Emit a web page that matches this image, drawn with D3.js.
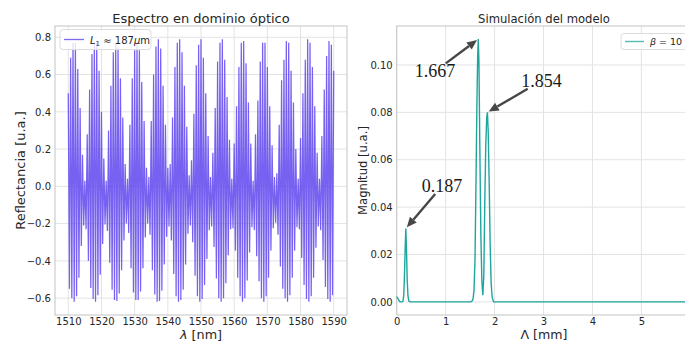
<!DOCTYPE html>
<html>
<head>
<meta charset="utf-8">
<script src="https://cdn.jsdelivr.net/npm/d3@7"></script>
<style>
  html, body { margin: 0; padding: 0; background: #ffffff; }
  svg { display: block; }
</style>
</head>
<body>
<svg id="chart" width="685" height="342"></svg>
<script>
// ---------- Left panel: optical reflectance spectrum ----------
const lambdaRange = [1510, 1590];                 // nm, sampled evenly
// peak value of each interference fringe, in order of wavelength
const fringePeaks = [
  0.50, 0.69, 0.77, 0.77, 0.63, 0.42, 0.17,
  0.03,
  0.28, 0.52, 0.71, 0.77, 0.77, 0.62, 0.40, 0.15,
  0.03,
  0.30, 0.54, 0.72, 0.77, 0.75, 0.58, 0.37, 0.12,
  0.04,
  0.33, 0.58, 0.73, 0.77, 0.73, 0.56, 0.35, 0.10,
  0.05,
  0.35, 0.60, 0.75, 0.79, 0.74, 0.54, 0.33, 0.10,
  0.12, 0.37, 0.64, 0.77, 0.79, 0.72, 0.54, 0.32,
  0.06,
  0.14, 0.39, 0.65, 0.76, 0.79, 0.69, 0.50, 0.27,
  0.05,
  0.18, 0.42, 0.67, 0.77, 0.79, 0.68, 0.48, 0.25,
  0.04,
  0.23, 0.43, 0.64, 0.77, 0.78, 0.66, 0.45, 0.23,
  0.03,
  0.28, 0.46, 0.67, 0.77, 0.77, 0.64, 0.43, 0.22,
  0.05, 0.07,
  0.33, 0.57, 0.68, 0.78, 0.77, 0.62, 0.45, 0.20,
  0.04,
  0.26, 0.50, 0.68, 0.79, 0.77, 0.64, 0.43, 0.18,
  0.04,
  0.27, 0.52, 0.70, 0.78, 0.76, 0.62
];
// trough value between consecutive fringe peaks
const fringeTroughs = [
  -0.55, -0.60, -0.62, -0.59, -0.49, -0.32, -0.21, -0.23,
  -0.40, -0.545, -0.605, -0.62, -0.585, -0.475, -0.31, -0.205, -0.24,
  -0.41, -0.555, -0.61, -0.615, -0.575, -0.45, -0.29, -0.20, -0.25,
  -0.44, -0.57, -0.61, -0.61, -0.565, -0.44, -0.275, -0.20, -0.26,
  -0.45, -0.58, -0.62, -0.615, -0.56, -0.42, -0.27, -0.215,
  -0.29, -0.47, -0.59, -0.62, -0.61, -0.555, -0.42, -0.255, -0.21,
  -0.30, -0.48, -0.59, -0.62, -0.605, -0.53, -0.39, -0.235, -0.215,
  -0.325, -0.495, -0.60, -0.62, -0.60, -0.52, -0.37, -0.23, -0.225,
  -0.345, -0.49, -0.59, -0.62, -0.60, -0.505, -0.355, -0.22, -0.235,
  -0.375, -0.51, -0.60, -0.62, -0.59, -0.49, -0.345, -0.225, -0.195, -0.26,
  -0.43, -0.55, -0.60, -0.62, -0.585, -0.49, -0.345, -0.22, -0.23,
  -0.385, -0.53, -0.605, -0.62, -0.59, -0.49, -0.33, -0.215, -0.235,
  -0.395, -0.54, -0.605, -0.62, -0.585
];
const lambdaTicks = [1510, 1520, 1530, 1540, 1550, 1560, 1570, 1580, 1590];
const reflTicks = [-0.6, -0.4, -0.2, 0.0, 0.2, 0.4, 0.6, 0.8];

// ---------- Right panel: model spectrum magnitude ----------
const spectrumLambda = [
  0, 0.02, 0.04, 0.06, 0.08, 0.11, 0.13, 0.145, 0.16, 0.175,
  0.187, 0.20, 0.215, 0.23, 0.25, 0.28,
  1.52, 1.54, 1.56, 1.58, 1.60, 1.62, 1.64, 1.655, 1.667, 1.68,
  1.70, 1.72, 1.74, 1.76, 1.78, 1.80, 1.82, 1.84, 1.854, 1.87,
  1.89, 1.91, 1.93, 1.95, 1.98, 6.02
];
const spectrumMag = [
  0.0022, 0.0016, 0.0008, 0.0002, 0, 0, 0.0004, 0.003, 0.012, 0.024,
  0.031, 0.022, 0.009, 0.0025, 0.0003, 0,
  0, 0.0003, 0.0012, 0.005, 0.018, 0.05, 0.085, 0.104, 0.1109, 0.102,
  0.063, 0.028, 0.009, 0.0028, 0.011, 0.042, 0.066, 0.078, 0.080, 0.072,
  0.050, 0.024, 0.008, 0.002, 0, 0
];
const periodTicks = [0, 1, 2, 3, 4, 5];
const magTicks = [0.00, 0.02, 0.04, 0.06, 0.08, 0.10];
// annotated peaks: label, peak position, peak height, label centre
const peakLabels = ["0.187", "1.667", "1.854"];
const peakPeriod = [0.187, 1.667, 1.854];
const peakHeight = [0.031, 0.1109, 0.080];
const peakLabelAt = [[0.926, 0.0489], [0.783, 0.0973], [2.957, 0.0933]];

// ---------- styling ----------
const FONT = "'DejaVu Sans', sans-serif";
const TEXT = "#262626";
const GRID = "#e3e3e3";
const SPINE = "#c4c4c4";
const SPECTRUM_COLOR = "#5f45ef";
const MODEL_COLOR = "#1ea69d";

const svg = d3.select("#chart");

function pad(ext, f) {
  const d = (ext[1] - ext[0]) * f;
  return [ext[0] - d, ext[1] + d];
}

function drawFrame(g, x, y, box, xt, yt, xfmt, yfmt, tickFont) {
  // grid
  g.append("g").selectAll("line").data(xt).join("line")
    .attr("x1", d => x(d)).attr("x2", d => x(d))
    .attr("y1", box.top).attr("y2", box.bottom)
    .attr("stroke", GRID).attr("stroke-width", 1);
  g.append("g").selectAll("line").data(yt).join("line")
    .attr("x1", box.left).attr("x2", box.right)
    .attr("y1", d => y(d)).attr("y2", d => y(d))
    .attr("stroke", GRID).attr("stroke-width", 1);
  // axes (labels only)
  const ax = g.append("g").attr("transform", `translate(0,${box.bottom})`)
    .call(d3.axisBottom(x).tickValues(xt).tickFormat(xfmt).tickSize(0).tickPadding(3));
  const ay = g.append("g").attr("transform", `translate(${box.left},0)`)
    .call(d3.axisLeft(y).tickValues(yt).tickFormat(yfmt).tickSize(0).tickPadding(4));
  [ax, ay].forEach(a => {
    a.select(".domain").remove();
    a.selectAll("text").attr("font-family", FONT).attr("font-size", tickFont).attr("fill", TEXT);
  });
  // spines
  g.append("rect")
    .attr("x", box.left).attr("y", box.top)
    .attr("width", box.right - box.left).attr("height", box.bottom - box.top)
    .attr("fill", "none").attr("stroke", SPINE).attr("stroke-width", 1);
}

// ================= Left panel =================
{
  const box = { left: 55, right: 347, top: 26, bottom: 315 };
  const n = fringePeaks.length + fringeTroughs.length;
  const step = (lambdaRange[1] - lambdaRange[0]) / (n - 1);
  const pts = [];
  fringePeaks.forEach((p, i) => {
    pts.push([lambdaRange[0] + 2 * i * step, p]);
    if (i < fringeTroughs.length) pts.push([lambdaRange[0] + (2 * i + 1) * step, fringeTroughs[i]]);
  });
  const x = d3.scaleLinear().domain(pad(lambdaRange, 0.05)).range([box.left, box.right]);
  const y = d3.scaleLinear().domain(pad(d3.extent(pts, d => d[1]), 0.05)).range([box.bottom, box.top]);
  const g = svg.append("g");
  drawFrame(g, x, y, box, lambdaTicks, reflTicks, d3.format("d"), d3.format(".1f"), 10);

  g.append("path").datum(pts)
    .attr("d", d3.line().x(d => x(d[0])).y(d => y(d[1])))
    .attr("fill", "none").attr("stroke", SPECTRUM_COLOR)
    .attr("stroke-width", 1.25).attr("stroke-opacity", 0.85)
    .attr("stroke-linejoin", "miter");

  // legend
  const lg = g.append("g");
  lg.append("rect").attr("x", 60).attr("y", 29.5).attr("width", 91).attr("height", 20)
    .attr("rx", 3).attr("fill", "#ffffff").attr("fill-opacity", 0.8)
    .attr("stroke", "#dddddd").attr("stroke-width", 1);
  lg.append("line").attr("x1", 64).attr("x2", 84).attr("y1", 39.5).attr("y2", 39.5)
    .attr("stroke", SPECTRUM_COLOR).attr("stroke-opacity", 0.8).attr("stroke-width", 1.3);
  const lt = lg.append("text").attr("x", 90).attr("y", 43.5)
    .attr("font-family", FONT).attr("font-size", 10).attr("fill", TEXT);
  lt.append("tspan").attr("font-style", "italic").text("L");
  lt.append("tspan").attr("font-size", 7).attr("dy", 2).text("1");
  lt.append("tspan").attr("dy", -2).text(" \u2248 187");
  lt.append("tspan").attr("font-style", "italic").text("\u03bc");
  lt.append("tspan").text("m");

  // titles
  g.append("text").attr("x", (box.left + box.right) / 2).attr("y", 22.5)
    .attr("text-anchor", "middle").attr("font-family", FONT).attr("font-size", 13)
    .attr("fill", TEXT).text("Espectro en dominio \u00f3ptico");
  const xl = g.append("text").attr("x", (box.left + box.right) / 2).attr("y", 338.5)
    .attr("text-anchor", "middle").attr("font-family", FONT).attr("font-size", 12.8).attr("fill", TEXT);
  xl.append("tspan").attr("font-style", "italic").text("\u03bb");
  xl.append("tspan").text(" [nm]");
  g.append("text").attr("transform", `translate(24.5,${(box.top + box.bottom) / 2}) rotate(-90)`)
    .attr("text-anchor", "middle").attr("font-family", FONT).attr("font-size", 13)
    .attr("fill", TEXT).text("Reflectancia [u.a.]");
}

// ================= Right panel =================
{
  const box = { left: 396.7, right: 691.3, top: 26, bottom: 315 };
  const pts = spectrumLambda.map((l, i) => [l, spectrumMag[i]]);
  const x = d3.scaleLinear().domain(d3.extent(spectrumLambda)).range([box.left, box.right]);
  const y = d3.scaleLinear().domain(pad(d3.extent(spectrumMag), 0.05)).range([box.bottom, box.top]);
  const g = svg.append("g");
  drawFrame(g, x, y, box, periodTicks, magTicks, d3.format("d"), d3.format(".2f"), 10);

  g.append("path").datum(pts)
    .attr("d", d3.line().x(d => x(d[0])).y(d => y(d[1])))
    .attr("fill", "none").attr("stroke", MODEL_COLOR).attr("stroke-width", 1.4);

  // annotations with arrows
  const ann = g.append("g");
  peakLabels.forEach((lab, i) => {
    const cx = x(peakLabelAt[i][0]), cy = y(peakLabelAt[i][1]);
    const t = ann.append("text").attr("x", cx).attr("y", cy)
      .attr("text-anchor", "middle").attr("dominant-baseline", "central")
      .attr("font-family", "'Liberation Serif', 'DejaVu Serif', serif").attr("font-size", 18)
      .attr("fill", "#1a1a1a").text(lab);
    const bb = t.node().getBBox();
    const tx = x(peakPeriod[i]), ty = y(peakHeight[i]);
    const dx = tx - cx, dy = ty - cy;
    const hw = bb.width / 2 + 1, hh = bb.height / 2 - 2;
    const s = Math.min(Math.abs(hw / dx), Math.abs(hh / dy));
    const sx = cx + dx * s, sy = cy + dy * s;
    const len = Math.hypot(tx - sx, ty - sy);
    const ux = (tx - sx) / len, uy = (ty - sy) / len;
    const ex = tx - ux * 1.5, ey = ty - uy * 1.5;
    const headL = 10, headW = 4.5;
    const bx = ex - ux * headL, by = ey - uy * headL;
    ann.append("line").attr("x1", sx).attr("y1", sy).attr("x2", bx).attr("y2", by)
      .attr("stroke", "#474747").attr("stroke-width", 2.4);
    ann.append("path")
      .attr("d", `M${ex},${ey}L${bx - uy * headW},${by + ux * headW}L${bx + uy * headW},${by - ux * headW}Z`)
      .attr("fill", "#474747");
  });

  // legend
  const lg = g.append("g");
  lg.append("rect").attr("x", 621).attr("y", 33.5).attr("width", 66).attr("height", 16)
    .attr("rx", 3).attr("fill", "#ffffff").attr("fill-opacity", 0.8)
    .attr("stroke", "#dddddd").attr("stroke-width", 1);
  lg.append("line").attr("x1", 625).attr("x2", 644).attr("y1", 41.5).attr("y2", 41.5)
    .attr("stroke", MODEL_COLOR).attr("stroke-opacity", 0.75).attr("stroke-width", 1.4);
  const lt = lg.append("text").attr("x", 650).attr("y", 45)
    .attr("font-family", FONT).attr("font-size", 9.5).attr("fill", TEXT);
  lt.append("tspan").attr("font-style", "italic").text("\u03b2");
  lt.append("tspan").text(" = 10");

  // titles
  const mid = (box.left + box.right) / 2;
  g.append("text").attr("x", mid).attr("y", 23)
    .attr("text-anchor", "middle").attr("font-family", FONT).attr("font-size", 11.6)
    .attr("fill", TEXT).text("Simulaci\u00f3n del modelo");
  g.append("text").attr("x", mid).attr("y", 338.5)
    .attr("text-anchor", "middle").attr("font-family", FONT).attr("font-size", 12.6)
    .attr("fill", TEXT).text("\u039b [mm]");
  g.append("text").attr("transform", `translate(367,${(box.top + box.bottom) / 2}) rotate(-90)`)
    .attr("text-anchor", "middle").attr("font-family", FONT).attr("font-size", 11.6)
    .attr("fill", TEXT).text("Magnitud [u.a.]");
}
</script>
</body>
</html>
